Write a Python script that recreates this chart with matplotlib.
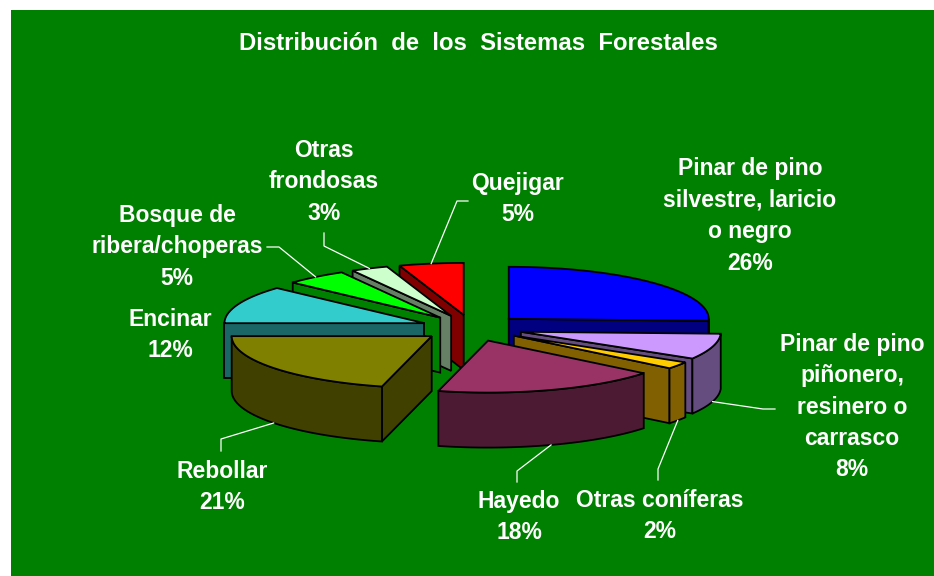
"""
Exploded 3D pie of the forest systems, drawn by hand from the shares.
"""

import numpy as np
import matplotlib.pyplot as plt
from matplotlib.patches import Polygon

NAMES = [
    "Pinar de pino\nsilvestre, laricio\no negro",
    "Pinar de pino\npiñonero,\nresinero o\ncarrasco",
    "Otras coníferas",
    "Hayedo",
    "Rebollar",
    "Encinar",
    "Bosque de\nribera/choperas",
    "Otras\nfrondosas",
    "Quejigar",
]
SHARES = [25.6, 8, 2.2, 18.2, 21, 11.8, 5, 3, 5.2]
TOP_COLORS = [
    "#0000FF", "#CC99FF", "#FFCC00", "#993366", "#808000",
    "#33CCCC", "#00FF00", "#CCFFCC", "#FF0000",
]
SIDE_COLORS = [
    "#000080", "#664D80", "#806000", "#4D1A33", "#404000",
    "#1A6666", "#008000", "#668066", "#800000",
]

TITLE = "Distribución  de  los  Sistemas  Forestales"

# pie geometry, in pixels of the picture
CX, CY = 472, 328
RX, RY = 200, 52
HEIGHT = 55
EXPLODE = 0.255

# label centres and the bends of each leader line
LABEL_POS = [
    (750, 216), (852, 407), (660, 516), (519, 517), (222, 487),
    (170, 335), (177, 247), (324, 182), (518, 199),
]
LEADER_BEND = [
    None,
    [(763, 409), (775, 409)],
    [(658, 469), (658, 480)],
    [(517, 471), (517, 482)],
    [(221, 439), (221, 451)],
    None,
    [(279, 247), (267, 247)],
    [(324, 246), (324, 233)],
    [(457, 201), (468, 201)],
]

BACKGROUND = "#008000"
EDGE = "black"
EDGE_W = 1.3
FONT = "Liberation Sans"


def rim(apex, angle):
    """Point of the top ellipse at an angle (degrees clockwise from 12 o'clock)."""
    rad = np.radians(angle)
    return apex[0] + RX * np.sin(rad), apex[1] - RY * np.cos(rad)


def add_face(ax, points, color, order):
    """Add one filled and outlined polygon."""
    ax.add_patch(
        Polygon(points, closed=True, facecolor=color, edgecolor=EDGE,
                linewidth=EDGE_W, joinstyle="miter", zorder=order)
    )


def draw_slice(ax, start, end, top, side, order):
    """Draw the visible faces of one exploded slice."""
    mid = np.radians((start + end) / 2)
    apex = (CX + EXPLODE * RX * np.sin(mid), CY - EXPLODE * RY * np.cos(mid))

    # flat faces, only those turned to the viewer
    for angle, normal in ((start, start - 90), (end, end + 90)):
        if np.cos(np.radians(normal)) < -1e-6:
            x, y = rim(apex, angle)
            face = [apex, (x, y), (x, y + HEIGHT), (apex[0], apex[1] + HEIGHT)]
            add_face(ax, face, side, order)

    # curved wall on the front half
    low, high = max(start, 90), min(end, 270)
    if low < high:
        arc = [rim(apex, a) for a in np.linspace(low, high, 40)]
        wall = arc + [(x, y + HEIGHT) for x, y in reversed(arc)]
        add_face(ax, wall, side, order + 0.1)

    arc = [rim(apex, a) for a in np.linspace(start, end, 60)]
    add_face(ax, [apex] + arc, top, order + 0.2)
    return apex


def draw_leader(ax, apex, angle, bend):
    """Draw the thin white line from a slice to its label."""
    x, y = rim(apex, angle)
    if 90 < angle < 270:
        y += HEIGHT
    xs = [x] + [p[0] for p in bend]
    ys = [y] + [p[1] for p in bend]
    ax.plot(xs, ys, color="white", linewidth=0.9, zorder=50)


def main():
    fig = plt.figure(figsize=(9.34, 5.76), dpi=100, facecolor="white")
    ax = fig.add_axes([11 / 934, 0, 923 / 934, 566 / 576])
    ax.set_xlim(11, 934)
    ax.set_ylim(576, 10)
    ax.set_facecolor(BACKGROUND)
    ax.set_xticks([])
    ax.set_yticks([])
    for spine in ax.spines.values():
        spine.set_visible(False)

    edges = np.cumsum([0] + SHARES) / sum(SHARES) * 360
    mids = (edges[:-1] + edges[1:]) / 2
    # back slices first so the front ones cover them
    order = np.argsort(-np.cos(np.radians(mids)))

    for rank, i in enumerate(order):
        apex = draw_slice(ax, edges[i], edges[i + 1], TOP_COLORS[i],
                          SIDE_COLORS[i], 10 + rank)
        if LEADER_BEND[i]:
            draw_leader(ax, apex, mids[i], LEADER_BEND[i])

    for name, share, pos in zip(NAMES, SHARES, LABEL_POS):
        ax.text(pos[0], pos[1], f"{name}\n{share:.0f}%", color="white", fontsize=16.5,
                fontweight="bold", family=FONT, ha="center", va="center",
                linespacing=1.47, zorder=60)

    ax.text(478, 43, TITLE, color="white", fontsize=17.2, fontweight="bold",
            family=FONT, ha="center", va="center", zorder=60)

    fig.savefig("out.png", dpi=100, facecolor=fig.get_facecolor())


if __name__ == "__main__":
    main()
